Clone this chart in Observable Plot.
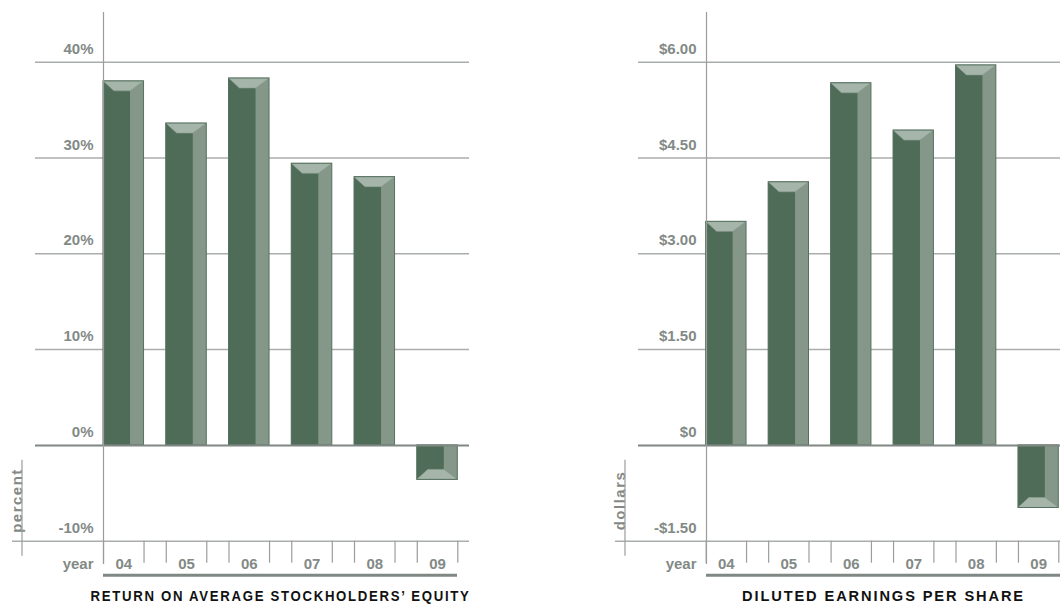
<!DOCTYPE html>
<html>
<head>
<meta charset="utf-8">
<script src="https://cdn.jsdelivr.net/npm/d3@7"></script>
<script src="https://cdn.jsdelivr.net/npm/@observablehq/plot@0.6"></script>
<style>
  html, body { margin: 0; padding: 0; background: #fff; }
  #charts { position: relative; width: 1060px; height: 604px; overflow: hidden; background: #fff; }
  #charts svg { position: absolute; top: 0; }
</style>
</head>
<body>
<div id="charts"></div>
<script>
// Fiscal years shown on both charts
const years = ["04", "05", "06", "07", "08", "09"];

// Return on average stockholders' equity, percent
const roeValues = [38.0, 33.6, 38.3, 29.4, 28.0, -3.6];
const roeTicks = [-10, 0, 10, 20, 30, 40];

// Diluted earnings per share, dollars
const epsValues = [3.50, 4.12, 5.67, 4.93, 5.95, -0.98];
const epsTicks = [-1.5, 0, 1.5, 3, 4.5, 6];

const COLORS = {
  face: "#4f6c58",
  side: "#849788",
  bevel: "#a6b5aa",
  outline: "#56715f",
  label: "#838a86",
  grid: "#aaaeab",
  zero: "#7f8883",
  axis: "#9a9d9b",
  title: "#111111"
};

const LABEL_FONT = "'Liberation Sans', Arial, sans-serif";
const TITLE_FONT = "'Liberation Sans', Arial, sans-serif";

const fmtPercent = d => `${d}%`;
const fmtDollar = d => d === 0 ? "$0" : (d < 0 ? "-" : "") + "$" + Math.abs(d).toFixed(2);

// Adds letter spacing to the text mark's group after Plot renders it
const spaced = (px) => (index, scales, values, dims, ctx, next) => {
  const g = next(index, scales, values, dims, ctx);
  g.setAttribute("letter-spacing", px);
  return g;
};

// Condensed, tracked-out heading squeezed to a set length
const condensed = (px, length) => (index, scales, values, dims, ctx, next) => {
  const g = next(index, scales, values, dims, ctx);
  g.setAttribute("letter-spacing", px);
  for (const t of g.querySelectorAll("text")) {
    t.setAttribute("textLength", length);
    t.setAttribute("lengthAdjust", "spacingAndGlyphs");
  }
  return g;
};

// Chiselled cap on the value end of each bar
const bevelRender = (index, scales, values) => {
  const bw = scales.x.bandwidth();
  const side = bw / 3, inL = bw * 0.27, h = 10;
  const g = d3.create("svg:g");
  for (const i of index) {
    const x0 = values.x[i], x1 = x0 + bw;
    const yEnd = values.y2[i], yBase = values.y1[i];
    const s = yEnd < yBase ? 1 : -1;
    const pts = [[x0, yEnd], [x1, yEnd], [x1 - side, yEnd + s * h], [x0 + inL, yEnd + s * h]];
    g.append("polygon")
      .attr("points", pts.map(p => p.join(",")).join(" "))
      .attr("fill", COLORS.bevel)
      .attr("stroke", "#8fa194")
      .attr("stroke-width", 0.6);
  }
  return g.node();
};

function barChart({values, ticks, format, unit, title, titleLength, xRange, left}) {
  const yMin = ticks[0];
  const yMax = ticks[ticks.length - 1];
  const rows = years.map((year, i) => ({year, value: values[i]}));
  const xOpts = {type: "band", domain: years, range: xRange, paddingInner: 0.354, paddingOuter: 0, align: 0, round: false, axis: null};
  const bw = Plot.scale({x: xOpts}).bandwidth;
  const gridTicks = ticks.filter(t => t !== 0 && t !== yMin);

  // Vertical rule beside the rotated unit label
  const unitRule = (index, scales, values, dims) => {
    const y0 = scales.y(yMin);
    const x = dims.marginLeft - 81;
    return d3.create("svg:line")
      .attr("x1", x).attr("x2", x)
      .attr("y1", y0 - 81).attr("y2", y0 + 15)
      .attr("stroke", COLORS.axis).attr("stroke-width", 1.2)
      .node();
  };

  const svg = Plot.plot({
    width: 603,
    height: 604,
    marginLeft: 103,
    marginRight: 146,
    marginTop: 12,
    marginBottom: 41,
    x: xOpts,
    y: {type: "linear", domain: [yMin, yMax], range: [540.7, 61.7], axis: null},
    style: {background: "#fff", fontFamily: LABEL_FONT, overflow: "visible"},
    marks: [
      // horizontal gridlines
      Plot.ruleY(gridTicks, {y: d => d, stroke: COLORS.grid, strokeWidth: 1.5, insetLeft: -68, insetRight: -12}),
      Plot.ruleY([yMin], {y: d => d, stroke: COLORS.grid, strokeWidth: 1.5, insetLeft: -91, insetRight: -12}),

      // bars: side face, front face, bevelled cap, outline
      Plot.barY(rows, {x: "year", y1: 0, y2: "value", fill: COLORS.side}),
      Plot.barY(rows, {x: "year", y1: 0, y2: "value", fill: COLORS.face, insetRight: bw / 3}),
      Plot.barY(rows, {x: "year", y1: 0, y2: "value", render: bevelRender}),
      Plot.barY(rows, {x: "year", y1: 0, y2: "value", fill: "none", stroke: COLORS.outline, strokeWidth: 1}),

      // zero baseline
      Plot.ruleY([0], {y: d => d, stroke: COLORS.zero, strokeWidth: 2, insetLeft: -68, insetRight: -12}),

      // vertical axis line
      Plot.frame({anchor: "left", stroke: COLORS.axis, strokeWidth: 1.2}),

      // separators under the bars
      Plot.ruleX(years, {x: d => d, y1: yMin, y2: yMin, dx: -bw / 2, insetBottom: -22, stroke: COLORS.axis, strokeWidth: 1.2}),
      Plot.ruleX(years, {x: d => d, y1: yMin, y2: yMin, dx: bw / 2, insetBottom: -22, stroke: COLORS.axis, strokeWidth: 1.2}),

      // y tick labels
      Plot.text(ticks, {y: d => d, frameAnchor: "left", text: format, dx: -10, dy: -8.5, textAnchor: "end", lineAnchor: "bottom",
        fill: COLORS.label, fontSize: 15, fontWeight: "bold"}),

      // year labels
      Plot.text(years, {x: d => d, y: () => yMin, text: d => d, dy: 27.5, lineAnchor: "bottom",
        fill: COLORS.label, fontSize: 15, fontWeight: "bold"}),
      Plot.text(["year"], {y: () => yMin, frameAnchor: "left", text: d => d, dx: -10, dy: 27.5, textAnchor: "end", lineAnchor: "bottom",
        fill: COLORS.label, fontSize: 15, fontWeight: "bold"}),

      // underline beneath the years
      Plot.ruleY([yMin], {y: d => d, dy: 34, stroke: COLORS.zero, strokeWidth: 3}),

      // rotated unit label
      Plot.text([unit], {frameAnchor: "bottom-left", text: d => d, dx: -82, dy: -63, rotate: -90, textAnchor: "middle", lineAnchor: "bottom",
        fill: COLORS.label, fontSize: 15, fontWeight: "bold", render: spaced(1.5)}),
      unitRule,

      // chart title
      Plot.text([title], {frameAnchor: "bottom", text: d => d, dy: 37.5, textAnchor: "middle", lineAnchor: "bottom",
        fill: COLORS.title, fontSize: 15.5, fontWeight: "bold", fontFamily: TITLE_FONT, render: condensed(2, titleLength)})
    ]
  });
  svg.style.left = left + "px";
  return svg;
}

const host = document.getElementById("charts");
host.append(barChart({
  values: roeValues, ticks: roeTicks, format: fmtPercent, unit: "percent",
  title: "RETURN ON AVERAGE STOCKHOLDERS\u2019 EQUITY", titleLength: 380, xRange: [103, 457.3], left: 0
}));
host.append(barChart({
  values: epsValues, ticks: epsTicks, format: fmtDollar, unit: "dollars",
  title: "DILUTED EARNINGS PER SHARE", titleLength: 283, xRange: [102.7, 455.3], left: 603
}));
</script>
</body>
</html>
